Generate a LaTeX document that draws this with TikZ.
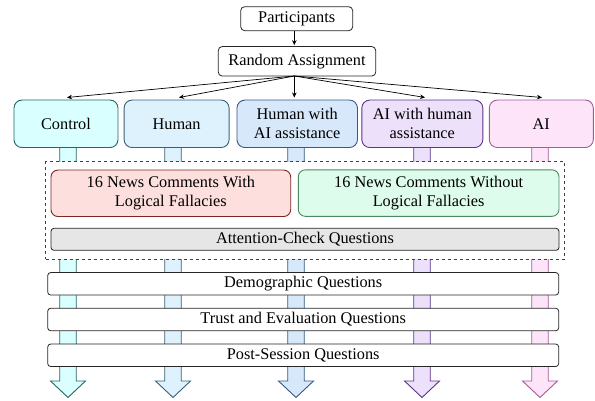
\documentclass[tikz,border=0pt]{standalone}
\usepackage{fontspec}
\setmainfont{Liberation Serif}
\usetikzlibrary{arrows.meta}
\definecolor{ctrlF}{RGB}{217,255,255}\definecolor{ctrlD}{RGB}{40,100,100}
\definecolor{humF}{RGB}{221,242,253}\definecolor{humD}{RGB}{58,96,115}
\definecolor{hwaF}{RGB}{214,232,250}\definecolor{hwaD}{RGB}{55,90,130}
\definecolor{aihF}{RGB}{237,224,251}\definecolor{aihD}{RGB}{92,52,138}
\definecolor{aiF}{RGB}{253,228,248}\definecolor{aiD}{RGB}{165,90,155}
\definecolor{redF}{RGB}{253,223,221}\definecolor{redD}{RGB}{128,36,36}
\definecolor{greF}{RGB}{221,252,235}\definecolor{greD}{RGB}{78,135,100}
\definecolor{graF}{RGB}{230,230,230}
\newcommand\widearrow[3]{%
  \filldraw[fill=#2,draw=#3,line width=0.9pt,line join=miter]
    (#1-8.25,146) -- (#1-8.25,381) -- (#1-17.5,381) -- (#1,397.5)
    -- (#1+17.5,381) -- (#1+8.25,381) -- (#1+8.25,146) -- cycle;}
\begin{document}
\begin{tikzpicture}[x=1pt,y=-1pt,
  every node/.style={font=\fontsize{16.3}{19}\selectfont, inner sep=0pt, align=center},
  topbox/.style={draw=black!85, fill=white, rounded corners=4pt, line width=0.8pt},
  grpbox/.style={rounded corners=8pt, line width=0.9pt, minimum height=47.5pt},
  newsbox/.style={rounded corners=7pt, line width=0.9pt, minimum height=46.5pt},
  barbox/.style={draw=black!85, fill=white, rounded corners=3pt, line width=0.8pt, minimum width=511pt, minimum height=22.5pt},
  conn/.style={-{Stealth[length=5pt,width=4.5pt]}, line width=0.7pt}]
\useasboundingbox (0,0) rectangle (595,401);
% wide arrows
\widearrow{68}{ctrlF}{ctrlD}
\widearrow{173}{humF}{humD}
\widearrow{296}{hwaF}{hwaD}
\widearrow{422}{aihF}{aihD}
\widearrow{540}{aiF}{aiD}
% top
\node[topbox, minimum width=112pt, minimum height=24pt] (part) at (296.7,18.7) {Participants};
\node[topbox, minimum width=157.5pt, minimum height=29.5pt] (ra) at (297,61.3) {Random Assignment};
% groups
\node[grpbox, fill=ctrlF, draw=ctrlD, minimum width=104pt] (ctrl) at (66,123.8) {Control};
\node[grpbox, fill=humF, draw=humD, minimum width=105pt] (hum) at (176.6,123.8) {Human};
\node[grpbox, fill=hwaF, draw=hwaD, minimum width=120.5pt] (hwa) at (297.2,123.8) {Human with\\AI assistance};
\node[grpbox, fill=aihF, draw=aihD, minimum width=121pt] (aih) at (422.3,123.8) {AI with human\\assistance};
\node[grpbox, fill=aiF, draw=aiD, minimum width=104pt] (ai) at (541.3,123.8) {AI};
% connectors
\draw[conn, shorten >=1pt] (part.south -| 294.3,0) -- (ra.north -| 294.3,0);
\coordinate (rs) at (294.3,76);
\draw[conn] (rs) -- (67,97.5);
\draw[conn] (rs) -- (179,97.5);
\draw[conn] (rs) -- (294.3,97.5);
\draw[conn] (rs) -- (425,97.5);
\draw[conn] (rs) -- (542,97.5);
% dashed container
\node[draw=black!75, fill=white, dashed, line width=0.8pt, minimum width=518.6pt, minimum height=97.6pt] (frame) at (305,210.5) {};
\node[newsbox, fill=redF, draw=redD, minimum width=239.7pt] (with) at (170.85,193.3) {16 News Comments With\\Logical Fallacies};
\node[newsbox, fill=greF, draw=greD, minimum width=260.7pt] (without) at (428.65,193.1) {16 News Comments Without\\Logical Fallacies};
\node[draw=black!85, fill=graF, rounded corners=3pt, line width=0.8pt, minimum width=508pt, minimum height=22pt] (att) at (305,239.3) {Attention-Check Questions};
% bars
\node[barbox] (demo) at (303.2,283.8) {Demographic Questions};
\node[barbox] (trust) at (303.2,319.5) {Trust and Evaluation Questions};
\node[barbox] (post) at (303.2,355.3) {Post-Session Questions};
\end{tikzpicture}
\end{document}
